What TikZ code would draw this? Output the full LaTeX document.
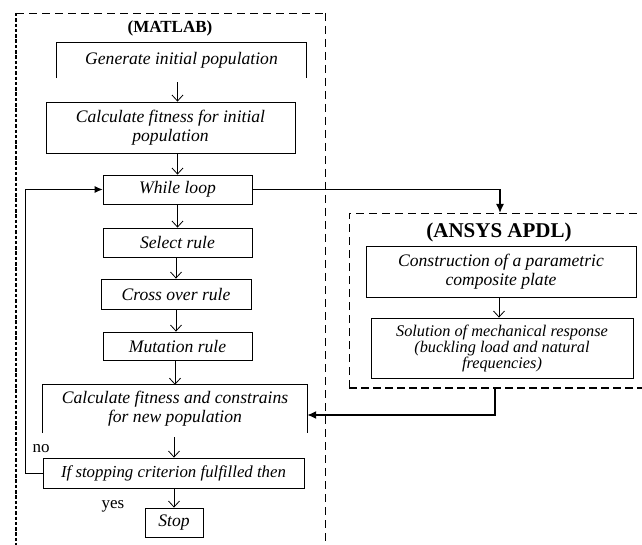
\documentclass[tikz,border=0pt]{standalone}
\usepackage{fontspec}
\setmainfont{Liberation Serif}
\usetikzlibrary{arrows.meta,calc}
\begin{document}
\begin{tikzpicture}[x=1pt,y=-1pt,
  txt/.style={inner sep=0pt, align=center, font=\fontsize{17.6}{19}\selectfont\itshape},
  box/.style={txt, draw, line width=0.8pt},
  flow/.style={line width=0.8pt, -{Straight Barb[length=6pt,width=11pt]}},
  link/.style={line width=1.5pt, -{Latex[length=9pt,width=8pt]}},
  thindash/.style={line width=0.8pt, dash pattern=on 8pt off 5pt},
  thickdash/.style={line width=2.5pt, dash pattern=on 3.5pt off 1.8pt},
  thickdashb/.style={line width=2.5pt, dash pattern=on 8pt off 4pt},
  lbl/.style={inner sep=0pt, font=\fontsize{17}{19}\selectfont}]
\useasboundingbox (0,0) rectangle (642,545);

% MATLAB frame
\draw[thickdash] (16,13) -- (16,550);
\draw[thindash] (16,13) -- (325,13);
\draw[thindash] (325,13) -- (325,550);
\node[inner sep=0pt, font=\fontsize{17}{19}\selectfont\bfseries] (mtitle) at (170,28) {(MATLAB)};

% ANSYS frame
\draw[thindash] (349,388) -- (349,213) -- (650,213);
\draw[thickdashb] (349,388) -- (650,388);
\node[inner sep=0pt, font=\fontsize{21}{23}\selectfont\bfseries] (atitle) at (499,232) {(ANSYS APDL)};
\coordinate (atop) at (500,213);
\coordinate (abot) at (495,388);

% MATLAB nodes
\node[txt, minimum width=249pt, minimum height=35pt] (gen) at (181.5,60.5) {Generate initial population};
\draw[line width=0.8pt] (gen.south west) -- (gen.north west) -- (gen.north east) -- (gen.south east);
\node[box, minimum width=249pt, minimum height=51pt] (calc1) at (170.5,127.5) {Calculate fitness for initial\\population};
\node[box, minimum width=149pt, minimum height=29pt] (while) at (177.5,189.5) {While loop};
\node[box, minimum width=149pt, minimum height=29pt] (select) at (177.5,242.5) {Select rule};
\node[box, minimum width=150pt, minimum height=30pt] (cross) at (176,294) {Cross over rule};
\node[box, minimum width=149pt, minimum height=28pt] (mut) at (177.5,346) {Mutation rule};
\node[txt, minimum width=264pt, minimum height=48pt] (calc2) at (175,409) {Calculate fitness and constrains\\for new population};
\draw[line width=0.8pt] (calc2.south west) -- (calc2.north west) -- (calc2.north east) -- (calc2.south east);
\node[box, minimum width=261pt, minimum height=30pt, font=\fontsize{16.8}{19}\selectfont\itshape] (ifstop) at (173.5,473) {If stopping criterion fulfilled then};
\node[box, minimum width=58pt, minimum height=29pt] (stop) at (174,522.5) {Stop};
\node[lbl] (no) at (41,449) {no};
\node[lbl] (yes) at (113,506) {yes};

% ANSYS nodes
\node[box, minimum width=270pt, minimum height=51pt] (cons) at (501,271.5) {Construction of a parametric\\composite plate};
\node[box, minimum width=262pt, minimum height=60pt, font=\fontsize{16.3}{16}\selectfont\itshape] (sol) at (502,348) {Solution of mechanical response\\(buckling load and natural\\frequencies)};

% flow arrows
\draw[flow] ($(gen.south -| while.north)+(0,4)$) -- (calc1.north -| while.north);
\draw[flow] (calc1.south -| while.north) -- (while.north);
\draw[flow] (while.south) -- (select.north);
\draw[flow] (select.south -| cross.north) -- (cross.north);
\draw[flow] (cross.south) -- (mut.north -| cross.north);
\draw[flow] (mut.south -| calc2.north) -- (calc2.north);
\draw[flow] ($(calc2.south -| stop.north)+(0,4)$) -- (ifstop.north -| stop.north);
\draw[flow] (ifstop.south -| stop.north) -- (stop.north);
\draw[flow] (cons.south -| atitle.south) -- (sol.north -| atitle.south);

% loop back
\draw[line width=0.8pt, -{Latex[length=8pt,width=7pt]}] (ifstop.west) -- ++(-17,0) |- (while.west);

% links to/from ANSYS
\draw[link] (while.east) -| (atop);
\draw[link] (abot) |- ([yshift=-6pt]calc2.east);
\end{tikzpicture}
\end{document}
